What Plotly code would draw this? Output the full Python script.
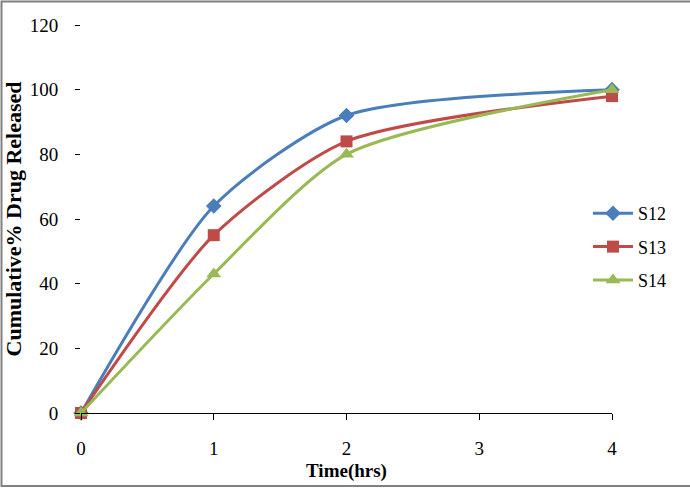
import plotly.graph_objects as go

time_hrs = [0, 1, 2, 4]
s12 = [0, 64, 92, 100]
s13 = [0, 55, 84, 98]
s14 = [0, 43, 80, 100]
series_names = ["S12", "S13", "S14"]
x_ticks = [0, 1, 2, 3, 4]
y_ticks = [0, 20, 40, 60, 80, 100, 120]

W, H = 690, 490
L, R, T, B = 81, 78, 25, 77
pw, ph = W - L - R, H - T - B

def px_x(p):
    return (p - L) / pw

def px_y(p):
    return (H - B - p) / ph

fig = go.Figure()
styles = [
    ("#4A7EBB", "diamond", 12),
    ("#BE4B48", "square", 12),
    ("#98B954", "triangle-up", 13),
]
for name, ys, (col, sym, sz) in zip(series_names, [s12, s13, s14], styles):
    fig.add_trace(go.Scatter(
        x=time_hrs, y=ys, name=name, mode="lines+markers", legendgroup=name,
        line=dict(color=col, width=3, shape="spline", smoothing=0.7),
        marker=dict(color=col, symbol=sym, size=sz),
        cliponaxis=False,
    ))

font_family = "Liberation Serif"
fig.update_layout(
    width=W, height=H,
    margin=dict(l=L, r=R, t=T, b=B),
    paper_bgcolor="white", plot_bgcolor="white",
    font=dict(family=font_family, size=19, color="black"),
    showlegend=True,
    legend=dict(x=px_x(588), y=px_y(195), xanchor="left", yanchor="top",
                font=dict(size=18, family=font_family), tracegroupgap=7,
                itemwidth=40, bgcolor="rgba(0,0,0,0)"),
    xaxis=dict(range=[0, 4], tickvals=x_ticks, ticktext=[str(v) for v in x_ticks],
               showgrid=False, zeroline=False, showline=True, linecolor="black", linewidth=1,
               ticks="outside", ticklen=6, tickcolor="black", ticklabelstandoff=12,
               tickfont=dict(size=19),
               title=dict(text="<b>Time(hrs)</b>", font=dict(size=19, family=font_family), standoff=5)),
    yaxis=dict(range=[0, 120], tickvals=y_ticks, ticktext=[str(v) for v in y_ticks],
               showgrid=False, zeroline=False, showline=False,
               ticks="outside", ticklen=5, tickcolor="black", ticklabelstandoff=13,
               tickfont=dict(size=19),
               title=dict(text="<b>Cumulative% Drug Released</b>", font=dict(size=22, family=font_family), standoff=2)),
    shapes=[dict(type="rect", xref="paper", yref="paper",
                 x0=px_x(1.5), x1=px_x(700), y0=px_y(486), y1=px_y(1.5),
                 line=dict(color="#808080", width=2), fillcolor="rgba(0,0,0,0)", layer="below")],
)
fig.write_html("out.html")
